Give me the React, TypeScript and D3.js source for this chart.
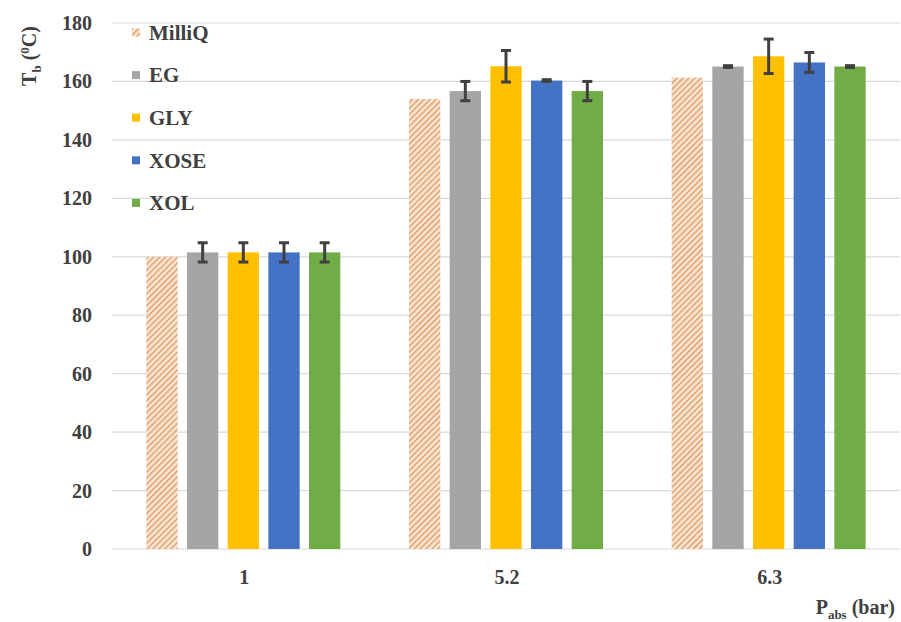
import React from "react";
import * as d3 from "d3";

const categories = ["1", "5.2", "6.3"];
const seriesNames = ["MilliQ", "EG", "GLY", "XOSE", "XOL"];
const seriesColors = ["#E0955C", "#A5A5A5", "#FFC000", "#4472C4", "#70AD47"];
const milliQ = [100, 154, 161.3];
const eg = [101.5, 156.7, 165.1];
const gly = [101.5, 165.2, 168.6];
const xose = [101.5, 160.3, 166.5];
const xol = [101.5, 156.7, 165.1];
const egErr = [3.3, 3.3, 0.3];
const glyErr = [3.3, 5.4, 5.9];
const xoseErr = [3.3, 0.3, 3.4];
const xolErr = [3.3, 3.3, 0.3];
const yTicks = [0, 20, 40, 60, 80, 100, 120, 140, 160, 180];

const values = [milliQ, eg, gly, xose, xol];
const errors: (number[] | null)[] = [null, egErr, glyErr, xoseErr, xolErr];

const W = 901, H = 622;
const left = 112, right = 900, top = 23, bottom = 549;
const font = "'Liberation Serif', 'Times New Roman', serif";
const txt = "#404040";

export default function App() {
  const x0 = d3.scaleBand<string>().domain(categories).range([left, right]).paddingInner(0).paddingOuter(0);
  const groupW = 194;
  const x1 = d3.scaleBand<string>().domain(seriesNames).range([0, groupW]).paddingInner(0.23).paddingOuter(0);
  const y = d3.scaleLinear().domain([0, 180]).range([bottom, top]);

  return (
    <svg width={W} height={H} style={{ position: "absolute", left: 0, top: 0, background: "#fff" }}>
      <defs>
        <pattern id="hatch" patternUnits="userSpaceOnUse" width="4.2" height="4.2" patternTransform="rotate(45)">
          <rect width="4.2" height="4.2" fill="#F8E3D0" />
          <line x1="0" y1="0" x2="0" y2="4.2" stroke={seriesColors[0]} strokeWidth="2.4" />
        </pattern>
      </defs>
      {yTicks.map((t) => (
        <g key={t}>
          <line x1={left} x2={right} y1={y(t)} y2={y(t)} stroke="#D9D9D9" strokeWidth={1.2} />
          <text x={92} y={y(t)} dy="0.35em" textAnchor="end" fontFamily={font} fontWeight="bold" fontSize={20} fill={txt}>
            {t}
          </text>
        </g>
      ))}
      {categories.map((c, ci) => {
        const gx = (x0(c) as number) + x0.bandwidth() / 2 - groupW / 2;
        return (
          <g key={c}>
            {seriesNames.map((s, si) => {
              const v = values[si][ci];
              const bx = gx + (x1(s) as number);
              const bw = x1.bandwidth();
              return (
                <rect key={s} x={bx} y={y(v)} width={bw} height={bottom - y(v)}
                  fill={si === 0 ? "url(#hatch)" : seriesColors[si]} />
              );
            })}
            {seriesNames.map((s, si) => {
              const e = errors[si];
              if (!e) return null;
              const v = values[si][ci];
              const cx = gx + (x1(s) as number) + x1.bandwidth() / 2;
              return (
                <g key={"e" + s} stroke="#404040" strokeWidth={3}>
                  <line x1={cx} x2={cx} y1={y(v + e[ci])} y2={y(v - e[ci])} />
                  <line x1={cx - 5} x2={cx + 5} y1={y(v + e[ci])} y2={y(v + e[ci])} />
                  <line x1={cx - 5} x2={cx + 5} y1={y(v - e[ci])} y2={y(v - e[ci])} />
                </g>
              );
            })}
            <text x={(x0(c) as number) + x0.bandwidth() / 2 + 1} y={584} textAnchor="middle" fontFamily={font} fontWeight="bold" fontSize={20} fill={txt}>
              {c}
            </text>
          </g>
        );
      })}
      {seriesNames.map((s, si) => {
        const ly = 32.5 + si * 42.6;
        return (
          <g key={"l" + s}>
            <rect x={132} y={ly - 4} width={8} height={8} fill={si === 0 ? "url(#hatch)" : seriesColors[si]} />
            <text x={149} y={ly} dy="0.35em" fontFamily={font} fontWeight="bold" fontSize={21} fill={txt}>{s}</text>
          </g>
        );
      })}
      <text transform="translate(36,56) rotate(-90)" textAnchor="middle" fontFamily={font} fontWeight="bold" fontSize={20} fill={txt}>
        T<tspan fontSize={13} dy="5">b</tspan><tspan dy="-5"> (</tspan><tspan fontSize={13} dy="-7">0</tspan><tspan dy="7">C)</tspan>
      </text>
      <text x={895} y={614} textAnchor="end" fontFamily={font} fontWeight="bold" fontSize={20} fill={txt}>
        P<tspan fontSize={13} dy="5">abs</tspan><tspan dy="-5"> (bar)</tspan>
      </text>
    </svg>
  );
}
